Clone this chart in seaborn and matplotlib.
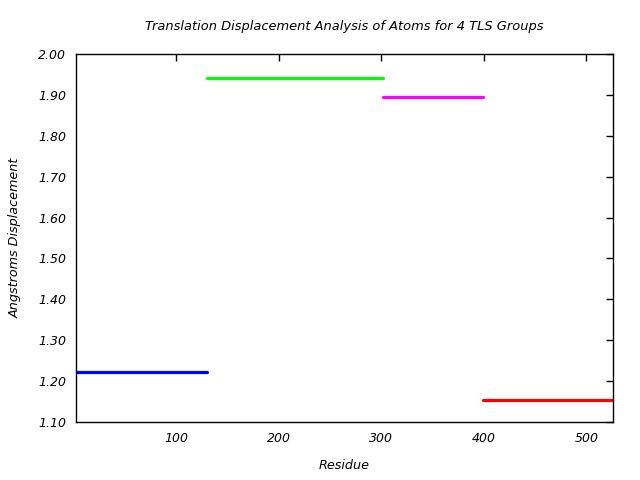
import pandas as pd
import matplotlib
matplotlib.use("Agg")
import matplotlib.pyplot as plt
import seaborn as sns
from matplotlib.ticker import FormatStrFormatter

# TLS group residue ranges and mean translation displacement
tls_groups = ["TLS1", "TLS2", "TLS3", "TLS4"]
group_start = [2, 130, 302, 399]
group_end = [130, 302, 399, 526]
displacement = [1.222, 1.941, 1.896, 1.153]
group_colors = ["#0000ff", "#00ff00", "#ff00ff", "#ff0000"]

rows = []
for g, s, e, d in zip(tls_groups, group_start, group_end, displacement):
    rows.append({"group": g, "residue": s, "disp": d})
    rows.append({"group": g, "residue": e, "disp": d})
df = pd.DataFrame(rows)

sns.set_theme(style="white")
plt.rcParams["font.family"] = ["DejaVu Sans"]
plt.rcParams["font.style"] = "italic"
plt.rcParams["text.color"] = "black"
plt.rcParams["axes.labelcolor"] = "black"

fig = plt.figure(figsize=(6.4, 4.8), dpi=100)
ax = fig.add_axes([76/640, 1 - 422/480, (613-76)/640, (422-54)/480])

sns.lineplot(data=df, x="residue", y="disp", hue="group", palette=group_colors,
             units="group", estimator=None, legend=False, linewidth=2.3, ax=ax)

ax.set_xlim(2, 526)
ax.set_ylim(1.10, 2.00)
ax.set_xticks([100, 200, 300, 400, 500])
ax.set_yticks([1.1 + 0.1*i for i in range(10)])
ax.yaxis.set_major_formatter(FormatStrFormatter("%.2f"))
ax.tick_params(direction="in", length=5, width=1, color="black",
               top=True, right=True, labelsize=9, labelcolor="black", pad=7)
for sp in ax.spines.values():
    sp.set_color("black")
    sp.set_linewidth(1)

ax.set_title("Translation Displacement Analysis of Atoms for 4 TLS Groups",
             fontsize=9.4, style="italic", pad=17, color="black")
ax.set_xlabel("Residue", fontsize=9.2, style="italic", labelpad=10)
ax.set_ylabel("Angstroms Displacement", fontsize=9.2, style="italic", labelpad=12)

fig.savefig("out.png", dpi=100)
